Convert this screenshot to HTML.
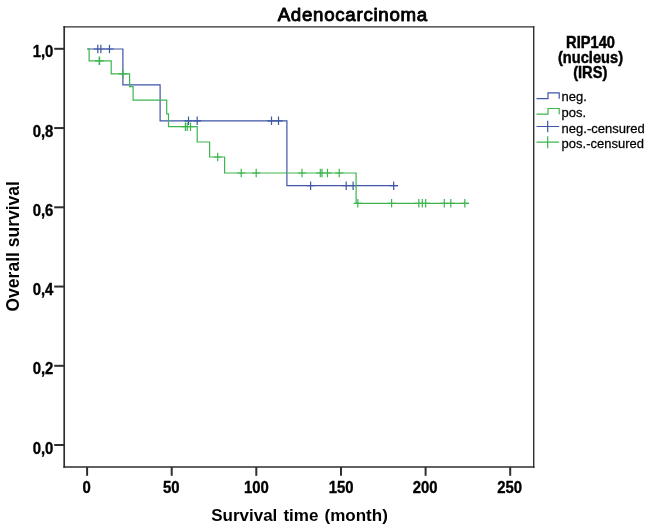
<!DOCTYPE html>
<html><head><meta charset="utf-8"><title>Adenocarcinoma</title>
<style>
html,body{margin:0;padding:0;background:#fff}
svg{display:block}
text{font-family:"Liberation Sans",Arial,sans-serif;fill:#000}
.b{font-weight:bold}
</style></head><body>
<svg width="650" height="532" viewBox="0 0 650 532">
<defs><filter id="sb" x="0" y="0" width="650" height="532" filterUnits="userSpaceOnUse"><feGaussianBlur stdDeviation="0.35"/></filter></defs>
<rect width="650" height="532" fill="#fff"/>
<text x="352.8" y="20.6" font-size="18.7" text-anchor="middle" letter-spacing="0.72" stroke="#000" stroke-width="0.9" stroke-linejoin="round">Adenocarcinoma</text>
<g stroke="#2e2e2e" fill="none" stroke-linecap="square">
<line x1="64.2" y1="26.9" x2="64.2" y2="467" stroke-width="1.7"/>
<line x1="64.2" y1="467" x2="533.7" y2="467" stroke-width="1.7"/>
<line x1="64.2" y1="26.85" x2="533.7" y2="26.85" stroke-width="1.4"/>
<line x1="533.7" y1="26.9" x2="533.7" y2="467" stroke-width="1.4"/>
</g>
<g stroke="#2e2e2e" stroke-width="2">
<line x1="87.1" y1="467.0" x2="87.1" y2="475.8"/>
<line x1="171.7" y1="467.0" x2="171.7" y2="475.8"/>
<line x1="256.3" y1="467.0" x2="256.3" y2="475.8"/>
<line x1="341.0" y1="467.0" x2="341.0" y2="475.8"/>
<line x1="425.6" y1="467.0" x2="425.6" y2="475.8"/>
<line x1="510.2" y1="467.0" x2="510.2" y2="475.8"/>
<line x1="54.2" y1="48.8" x2="64.2" y2="48.8"/>
<line x1="54.2" y1="128.05" x2="64.2" y2="128.05"/>
<line x1="54.2" y1="207.3" x2="64.2" y2="207.3"/>
<line x1="54.2" y1="286.55" x2="64.2" y2="286.55"/>
<line x1="54.2" y1="365.8" x2="64.2" y2="365.8"/>
<line x1="54.2" y1="445.0" x2="64.2" y2="445.0"/>
</g>
<g class="b" font-size="15.7" stroke="#000" stroke-width="0.35" stroke-linejoin="round">
<text transform="translate(86.6,492.6) scale(0.95,1)" text-anchor="middle">0</text>
<text transform="translate(171.2,492.6) scale(0.95,1)" text-anchor="middle">50</text>
<text transform="translate(256.4,492.6) scale(0.95,1)" text-anchor="middle">100</text>
<text transform="translate(341.1,492.6) scale(0.95,1)" text-anchor="middle">150</text>
<text transform="translate(425.1,492.6) scale(0.95,1)" text-anchor="middle">200</text>
<text transform="translate(509.7,492.6) scale(0.95,1)" text-anchor="middle">250</text>
<text transform="translate(53.4,57.30) scale(0.95,1)" text-anchor="end">1,0</text>
<text transform="translate(53.4,136.55) scale(0.95,1)" text-anchor="end">0,8</text>
<text transform="translate(53.4,215.80) scale(0.95,1)" text-anchor="end">0,6</text>
<text transform="translate(53.4,295.05) scale(0.95,1)" text-anchor="end">0,4</text>
<text transform="translate(53.4,374.30) scale(0.95,1)" text-anchor="end">0,2</text>
<text transform="translate(53.4,453.50) scale(0.95,1)" text-anchor="end">0,0</text>
</g>
<text class="b" x="299.5" y="521.3" font-size="17.0" text-anchor="middle" word-spacing="1.4">Survival time (month)</text>
<text class="b" font-size="17.5" text-anchor="middle" transform="translate(19.0,246.3) rotate(-90)">Overall survival</text>
<g fill="none" stroke-width="1.2" filter="url(#sb)">
<polyline stroke="#3f56a6" points="87.2,49.0 122.9,49.0 122.9,84.8 160.1,84.8 160.1,120.8 286.9,120.8 286.9,185.7 398,185.7"/>
<path stroke="#3f56a6" d="M97.8,44.70V53.30M93.70,49.0H101.90 M100.9,44.70V53.30M96.80,49.0H105.00 M109.5,44.70V53.30M105.40,49.0H113.60 M188.5,116.50V125.10M184.40,120.8H192.60 M197.2,116.50V125.10M193.10,120.8H201.30 M271.5,116.50V125.10M267.40,120.8H275.60 M278.5,116.50V125.10M274.40,120.8H282.60 M310.6,181.40V190.00M306.50,185.7H314.70 M346.2,181.40V190.00M342.10,185.7H350.30 M353.1,181.40V190.00M349.00,185.7H357.20 M393.7,181.40V190.00M389.60,185.7H397.80"/>
<polyline stroke="#3cb54e" points="87.2,49.0 89.1,49.0 89.1,60.8 111.2,60.8 111.2,73.9 129.6,73.9 129.6,86.7 133.1,86.7 133.1,100.2 166.7,100.2 166.7,113.9 168.5,113.9 168.5,126.7 197.2,126.7 197.2,142 209.6,142 209.6,157.0 224.6,157.0 224.6,173.0 356.1,173.0 356.1,203.3 469,203.3"/>
<path stroke="#3cb54e" d="M99.2,56.50V65.10M95.10,60.8H103.30 M99.6,56.50V65.10M95.50,60.8H103.70 M122.9,69.60V78.20M118.80,73.9H127.00 M185.4,122.40V131.00M181.30,126.7H189.50 M187.2,122.40V131.00M183.10,126.7H191.30 M190.5,122.40V131.00M186.40,126.7H194.60 M217.7,152.70V161.30M213.60,157.0H221.80 M241.2,168.70V177.30M237.10,173.0H245.30 M256.2,168.70V177.30M252.10,173.0H260.30 M302,168.70V177.30M297.90,173.0H306.10 M320.3,168.70V177.30M316.20,173.0H324.40 M322,168.70V177.30M317.90,173.0H326.10 M327.5,168.70V177.30M323.40,173.0H331.60 M339.2,168.70V177.30M335.10,173.0H343.30 M357.8,199.00V207.60M353.70,203.3H361.90 M391.6,199.00V207.60M387.50,203.3H395.70 M418.8,199.00V207.60M414.70,203.3H422.90 M422.3,199.00V207.60M418.20,203.3H426.40 M425.7,199.00V207.60M421.60,203.3H429.80 M444.3,199.00V207.60M440.20,203.3H448.40 M450.8,199.00V207.60M446.70,203.3H454.90 M464.8,199.00V207.60M460.70,203.3H468.90"/>
</g>
<g class="b" font-size="16" text-anchor="middle" stroke="#000" stroke-width="0.45">
<text transform="translate(590.5,47.5) scale(0.915,1)">RIP140</text>
<text transform="translate(590.5,62.9) scale(0.915,1)">(nucleus)</text>
<text transform="translate(590.2,78.3) scale(0.915,1)">(IRS)</text>
</g>
<g fill="none" stroke-width="1.2">
<path stroke="#3f56a6" d="M536.5,98.7H548V92.9H559.2V98.7"/>
<path stroke="#3cb54e" d="M536.5,114.2H548V108.5H559.2V114.2"/>
<path stroke="#3f56a6" d="M536.5,126.5H559.2M547.7,120.8V132.3"/>
<path stroke="#3cb54e" d="M536.5,142.1H559.2M547.7,136.3V148.3"/>
</g>
<g font-size="13.6" stroke="#000" stroke-width="0.25">
<text transform="translate(561.6,101.2) scale(0.956,1)">neg.</text>
<text transform="translate(561.6,116.6) scale(0.956,1)">pos.</text>
<text transform="translate(561.6,132.5) scale(0.956,1)">neg.-censured</text>
<text transform="translate(561.6,147.9) scale(0.956,1)">pos.-censured</text>
</g>
</svg>
</body></html>
